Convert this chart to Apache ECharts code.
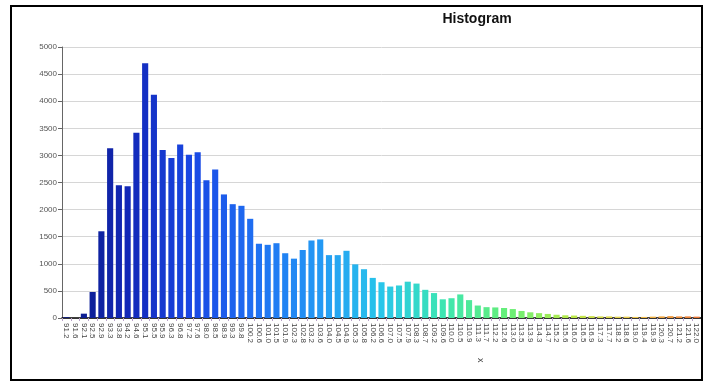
<!DOCTYPE html>
<html>
<head>
<meta charset="utf-8">
<title>Histogram</title>
<script src="https://cdn.jsdelivr.net/npm/echarts@6/dist/echarts.min.js"></script>
<style>
  html, body { margin: 0; padding: 0; background: #ffffff; }
  #chart { width: 707px; height: 382px; }
</style>
</head>
<body>
<div id="chart"></div>
<script>
// Bin labels (bin centres) along the x axis
const binLabels = [
  '91.2','91.6','92.1','92.5','92.9','93.3','93.8','94.2','94.6','95.1',
  '95.5','95.9','96.3','96.8','97.2','97.6','98.0','98.5','98.9','99.3',
  '99.8','100.2','100.6','101.0','101.5','101.9','102.3','102.8','103.2','103.6',
  '104.0','104.5','104.9','105.3','105.8','106.2','106.6','107.0','107.5','107.9',
  '108.3','108.7','109.2','109.6','110.0','110.5','110.9','111.3','111.7','112.2',
  '112.6','113.0','113.5','113.9','114.3','114.7','115.2','115.6','116.0','116.5',
  '116.9','117.3','117.7','118.2','118.6','119.0','119.4','119.9','120.3','120.7',
  '121.2','121.6','122.0'
];

// Count per bin
const binCounts = [
  15, 0, 80, 480, 1600, 3130, 2450, 2430, 3420, 4700,
  4120, 3100, 2950, 3200, 3010, 3060, 2540, 2740, 2280, 2100,
  2070, 1830, 1370, 1350, 1380, 1195, 1095, 1255, 1430, 1450,
  1160, 1160, 1240, 990, 900, 740, 660, 580, 600, 670,
  635, 520, 460, 345, 365, 435, 330, 230, 200, 195,
  185, 165, 130, 105, 90, 75, 60, 50, 45, 40,
  35, 30, 30, 25, 25, 20, 20, 25, 30, 35,
  30, 30, 25
];

// Y axis range
const yMin = 0;
const yMax = 5000;
const yStep = 500;

// Colour ramp applied along the bins (navy -> blue -> cyan -> green -> yellow -> orange)
const ramp = ['#0a1a86', '#1228b8', '#1a48e4', '#1f70f2', '#2498f4', '#28c6ea',
              '#3ee6b0', '#66ee78', '#b8ea48', '#f0c84a', '#ee7634'];

const chart = echarts.init(document.getElementById('chart'), null, { renderer: 'canvas' });

const data = binCounts.map((v, i) => [i, v]);

chart.setOption({
  animation: false,
  backgroundColor: '#ffffff',
  title: {
    text: 'Histogram',
    left: 472,
    top: 7,
    textAlign: 'center',
    textStyle: {
      fontFamily: 'Liberation Sans Narrow, Liberation Sans, Arial, sans-serif',
      fontSize: 14,
      fontWeight: 'bold',
      color: '#111'
    }
  },
  grid: { left: 62, right: 6, top: 47, bottom: 64, containLabel: false },
  visualMap: {
    show: false,
    type: 'continuous',
    dimension: 0,
    min: 0,
    max: binLabels.length - 1,
    inRange: { color: ramp }
  },
  xAxis: {
    type: 'category',
    data: binLabels,
    boundaryGap: true,
    axisLine: { show: true, lineStyle: { color: '#000', width: 1.5 } },
    axisTick: { show: true, length: 3, interval: 0, lineStyle: { color: '#b8a0c8' } },
    axisLabel: {
      interval: 0,
      rotate: -90,
      margin: 5,
      fontSize: 8,
      color: '#444',
      fontFamily: 'Liberation Sans Narrow, Liberation Sans, sans-serif'
    },
    splitLine: { show: false }
  },
  yAxis: {
    type: 'value',
    min: yMin,
    max: yMax,
    interval: yStep,
    axisLine: { show: true, lineStyle: { color: '#666', width: 1 } },
    axisTick: { show: true, inside: false, length: 4, lineStyle: { color: '#666' } },
    axisLabel: {
      fontSize: 8,
      color: '#555',
      margin: 5,
      formatter: (v) => String(v),
      fontFamily: 'Liberation Sans Narrow, Liberation Sans, sans-serif'
    },
    splitLine: { show: true, lineStyle: { color: '#d6d6d6', width: 1 } }
  },
  series: [{
    type: 'bar',
    data: data,
    barCategoryGap: '30%',
    encode: { x: 0, y: 1 }
  }],
  graphic: [
    {
      type: 'rect',
      shape: { x: 11, y: 6, width: 691, height: 374 },
      style: { fill: null, stroke: '#000', lineWidth: 2 },
      silent: true,
      z: 100
    },
    {
      type: 'text',
      left: 476,
      top: 358,
      rotation: -Math.PI / 2,
      style: { text: 'x', fontSize: 9, fill: '#444', fontFamily: 'Liberation Sans, sans-serif' }
    }
  ]
});
</script>
</body>
</html>
